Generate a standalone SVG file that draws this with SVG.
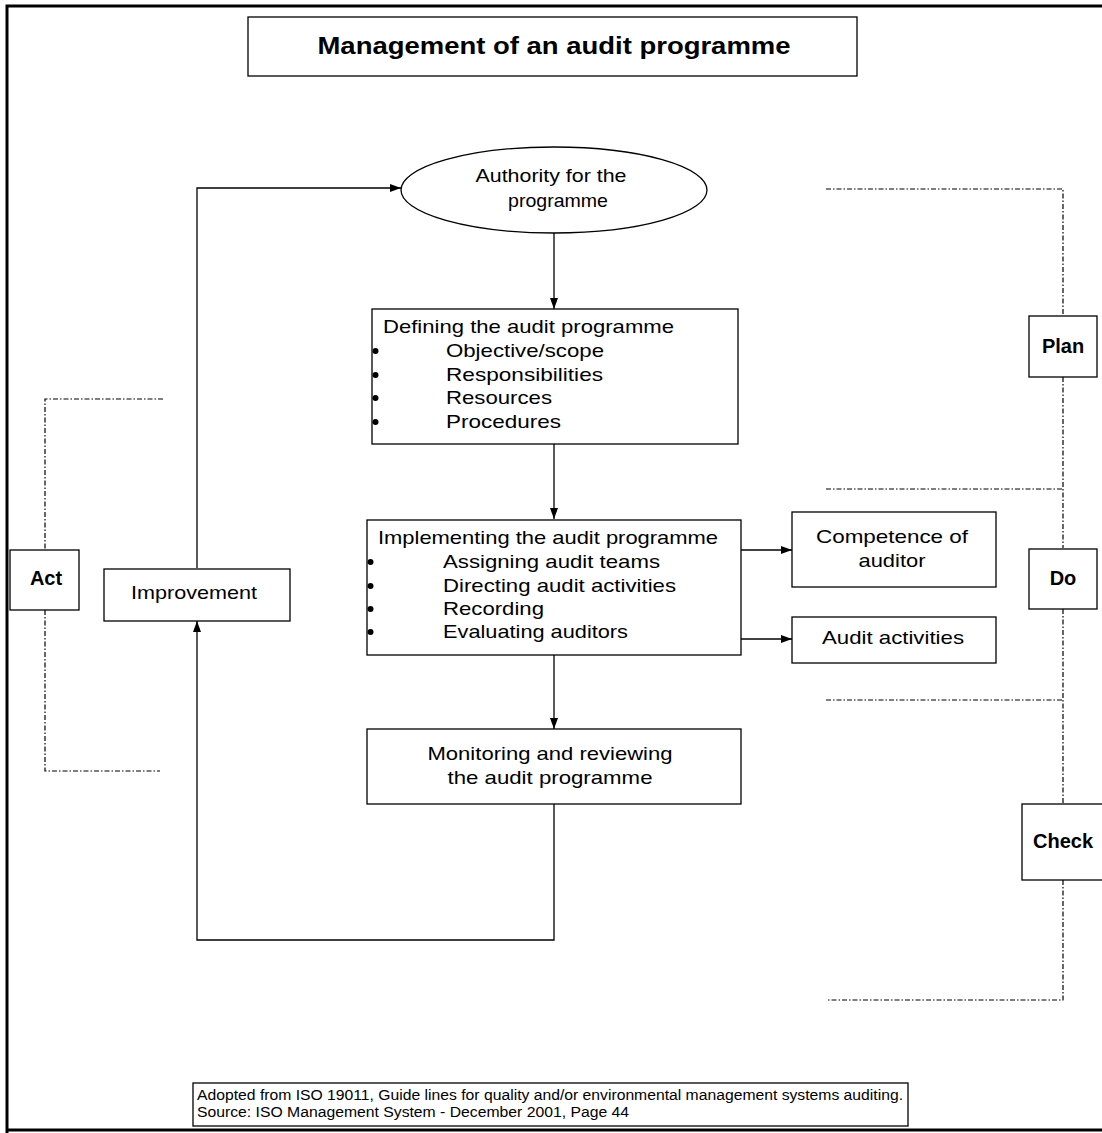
<svg xmlns="http://www.w3.org/2000/svg" width="1102" height="1133" viewBox="0 0 1102 1133">
  <style>
    .box { fill: #fff; stroke: #000; stroke-width: 1.3; }
    .line { fill: none; stroke: #000; stroke-width: 1.3; }
    .dot { fill: none; stroke: #000; stroke-width: 1.2; stroke-dasharray: 5 2 1.5 2; }
    .t { font-family: "Liberation Sans", Arial, sans-serif; font-size: 19px; fill: #000; }
    .c { text-anchor: middle; }
    .b { font-weight: bold; font-size: 20px; }
    .f { font-family: "Liberation Sans", Arial, sans-serif; font-size: 14px; fill: #000; }
    .bullet { fill: #000; }
  </style>
  <defs>
    <marker id="arrow" viewBox="0 0 11 8" refX="11" refY="4" markerWidth="11" markerHeight="8" markerUnits="userSpaceOnUse" orient="auto">
      <path d="M0,0 L11,4 L0,8 Z" fill="#000"/>
    </marker>
  </defs>

  <rect x="0" y="0" width="1102" height="1133" fill="#fff"/>

  <!-- page frame -->
  <g id="frame" fill="none" stroke="#000" stroke-width="3">
    <path d="M7,1133 V6 H1102"/>
    <path d="M7,1130 H1102"/>
  </g>

  <!-- title -->
  <g id="title">
    <rect class="box" x="248" y="17" width="609" height="59"/>
    <text class="t b c" x="554" y="54" style="font-size:24px" textLength="473" lengthAdjust="spacingAndGlyphs">Management of an audit programme</text>
  </g>

  <!-- connectors -->
  <g id="connectors">
    <path class="line" d="M554,233 V309" marker-end="url(#arrow)"/>
    <path class="line" d="M554,444 V519" marker-end="url(#arrow)"/>
    <path class="line" d="M554,655 V729" marker-end="url(#arrow)"/>
    <path class="line" d="M741,550 H792" marker-end="url(#arrow)"/>
    <path class="line" d="M741,639 H792" marker-end="url(#arrow)"/>
    <path class="line" d="M554,804 V940 H197 V621" marker-end="url(#arrow)"/>
    <path class="line" d="M197,568 V188 H401" marker-end="url(#arrow)"/>
  </g>

  <!-- PDCA brackets -->
  <g id="brackets">
    <path class="dot" d="M163,399 H45 V550"/>
    <path class="dot" d="M45,610 V771 H160"/>
    <path class="dot" d="M826,189 H1063 V316"/>
    <path class="dot" d="M1063,377 V548"/>
    <path class="dot" d="M826,489 H1063"/>
    <path class="dot" d="M1063,609 V804"/>
    <path class="dot" d="M826,700 H1063"/>
    <path class="dot" d="M1063,880 V1000 H826"/>
  </g>

  <g id="authority">
    <ellipse class="box" cx="554" cy="190" rx="153" ry="43"/>
    <text class="t c" x="551" y="182" textLength="151" lengthAdjust="spacingAndGlyphs">Authority for the</text>
    <text class="t c" x="558" y="207" textLength="100" lengthAdjust="spacingAndGlyphs">programme</text>
  </g>

  <g id="defining">
    <rect class="box" x="372" y="309" width="366" height="135"/>
    <text class="t" x="383" y="333" textLength="291" lengthAdjust="spacingAndGlyphs">Defining the audit programme</text>
    <circle class="bullet" cx="375.5" cy="351" r="3"/>
    <circle class="bullet" cx="375.5" cy="375" r="3"/>
    <circle class="bullet" cx="375.5" cy="398" r="3"/>
    <circle class="bullet" cx="375.5" cy="422" r="3"/>
    <text class="t" x="446" y="357" textLength="158" lengthAdjust="spacingAndGlyphs">Objective/scope</text>
    <text class="t" x="446" y="381" textLength="157" lengthAdjust="spacingAndGlyphs">Responsibilities</text>
    <text class="t" x="446" y="404" textLength="106" lengthAdjust="spacingAndGlyphs">Resources</text>
    <text class="t" x="446" y="428" textLength="115" lengthAdjust="spacingAndGlyphs">Procedures</text>
  </g>

  <g id="implementing">
    <rect class="box" x="367" y="520" width="374" height="135"/>
    <text class="t" x="378" y="544" textLength="340" lengthAdjust="spacingAndGlyphs">Implementing the audit programme</text>
    <circle class="bullet" cx="370.5" cy="562" r="3"/>
    <circle class="bullet" cx="370.5" cy="586" r="3"/>
    <circle class="bullet" cx="370.5" cy="609" r="3"/>
    <circle class="bullet" cx="370.5" cy="632" r="3"/>
    <text class="t" x="443" y="568" textLength="217" lengthAdjust="spacingAndGlyphs">Assigning audit teams</text>
    <text class="t" x="443" y="592" textLength="233" lengthAdjust="spacingAndGlyphs">Directing audit activities</text>
    <text class="t" x="443" y="615" textLength="101" lengthAdjust="spacingAndGlyphs">Recording</text>
    <text class="t" x="443" y="638" textLength="185" lengthAdjust="spacingAndGlyphs">Evaluating auditors</text>
  </g>

  <g id="competence">
    <rect class="box" x="792" y="512" width="204" height="75"/>
    <text class="t c" x="892" y="543" textLength="152" lengthAdjust="spacingAndGlyphs">Competence of</text>
    <text class="t c" x="892" y="567" textLength="67" lengthAdjust="spacingAndGlyphs">auditor</text>
  </g>

  <g id="audit-activities">
    <rect class="box" x="792" y="617" width="204" height="46"/>
    <text class="t c" x="893" y="644" textLength="142" lengthAdjust="spacingAndGlyphs">Audit activities</text>
  </g>

  <g id="monitoring">
    <rect class="box" x="367" y="729" width="374" height="75"/>
    <text class="t c" x="550" y="760" textLength="245" lengthAdjust="spacingAndGlyphs">Monitoring and reviewing</text>
    <text class="t c" x="550" y="784" textLength="205" lengthAdjust="spacingAndGlyphs">the audit programme</text>
  </g>

  <g id="improvement">
    <rect class="box" x="104" y="569" width="186" height="52"/>
    <text class="t c" x="194" y="599" textLength="126" lengthAdjust="spacingAndGlyphs">Improvement</text>
  </g>

  <g id="act">
    <rect class="box" x="10" y="550" width="69" height="60"/>
    <text class="t b c" x="46" y="585">Act</text>
  </g>

  <g id="plan">
    <rect class="box" x="1029" y="316" width="68" height="61"/>
    <text class="t b c" x="1063" y="353">Plan</text>
  </g>

  <g id="do">
    <rect class="box" x="1029" y="549" width="68" height="60"/>
    <text class="t b c" x="1063" y="585">Do</text>
  </g>

  <g id="check">
    <rect class="box" x="1022" y="804" width="84" height="76"/>
    <text class="t b c" x="1063" y="848">Check</text>
  </g>

  <g id="source">
    <rect class="box" x="193" y="1083" width="715" height="43"/>
    <text class="f" x="197" y="1100" textLength="706" lengthAdjust="spacingAndGlyphs">Adopted from ISO 19011, Guide lines for quality and/or environmental management systems auditing.</text>
    <text class="f" x="197" y="1117" textLength="432" lengthAdjust="spacingAndGlyphs">Source: ISO Management System - December 2001, Page 44</text>
  </g>
</svg>
